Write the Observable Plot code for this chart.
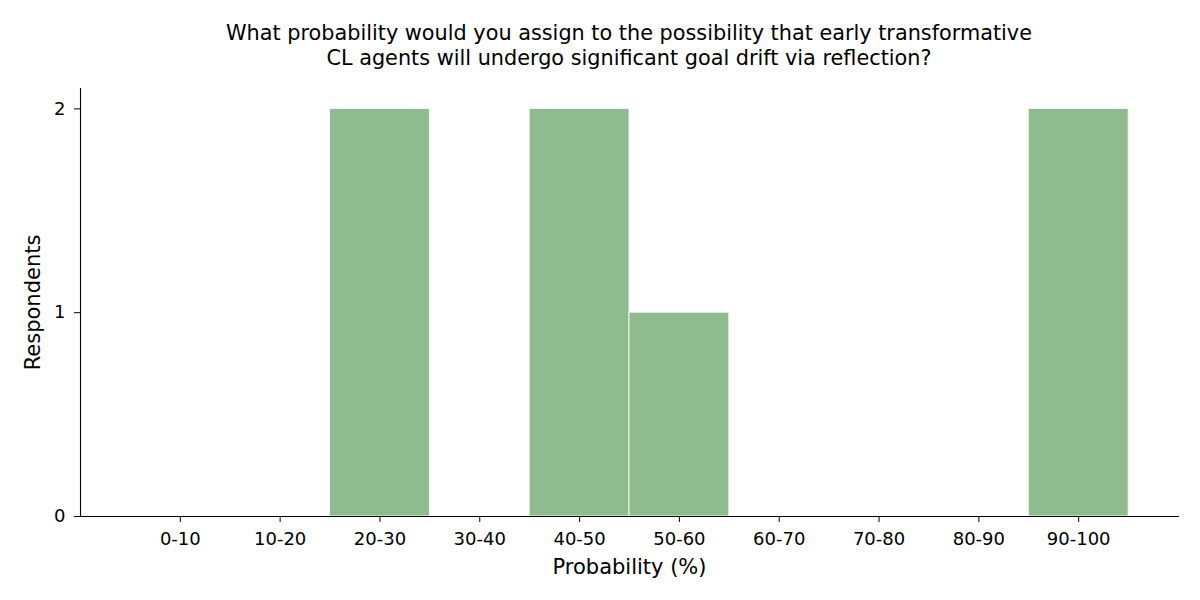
<!DOCTYPE html>
<html>
<head>
<meta charset="utf-8">
<script src="https://cdn.jsdelivr.net/npm/d3@7"></script>
<script src="https://cdn.jsdelivr.net/npm/@observablehq/plot@0.6"></script>
<style>
  body { margin: 0; background: #fff; font-family: "DejaVu Sans", sans-serif; }
  #title { box-sizing: border-box; width: 1200px; height: 76px; padding: 21px 0 0 58px;
           text-align: center; font-size: 20.8px; line-height: 24.5px; color: #000; }
  svg { display: block; }
  g[aria-label="x-axis label"], g[aria-label="y-axis label"] { font-size: 21px; }
</style>
</head>
<body>
<div id="title">What probability would you assign to the possibility that early transformative<br>CL agents will undergo significant goal drift via reflection?</div>
<div id="chart"></div>
<script>
const categories = ["0-10","10-20","20-30","30-40","40-50","50-60","60-70","70-80","80-90","90-100"];
const respondents = [0, 0, 2, 0, 2, 1, 0, 0, 0, 2];
const yTicks = [0, 1, 2];

const data = categories.map((c, i) => ({bin: c, count: respondents[i]}));

const chart = Plot.plot({
  width: 1200,
  height: 524,
  marginTop: 12,
  marginBottom: 84,
  marginLeft: 80,
  marginRight: 22,
  style: {fontFamily: "DejaVu Sans, sans-serif", color: "#000", background: "#fff"},
  x: {type: "band", domain: categories, paddingInner: 0, paddingOuter: 0.5, round: false},
  y: {domain: [0, 2.1]},
  marks: [
    Plot.barY(data, {x: "bin", y: "count", fill: "#8fbc8f", stroke: "#fff", strokeWidth: 0.8}),
    Plot.axisX({tickSize: 6, tickPadding: 10, fontSize: 18, label: "Probability (%)", labelAnchor: "center", labelOffset: 57, labelArrow: false, stroke: "#000"}),
    Plot.axisY({ticks: yTicks, tickSize: 6, tickPadding: 9, fontSize: 18, tickFormat: d3.format("d"), label: "Respondents", labelAnchor: "center", labelOffset: 55, labelArrow: false, stroke: "#000"}),
    Plot.frame({anchor: "left", stroke: "#000", strokeWidth: 1.1}),
    Plot.frame({anchor: "bottom", stroke: "#000", strokeWidth: 1.1})
  ]
});
document.getElementById("chart").appendChild(chart);
</script>
</body>
</html>
